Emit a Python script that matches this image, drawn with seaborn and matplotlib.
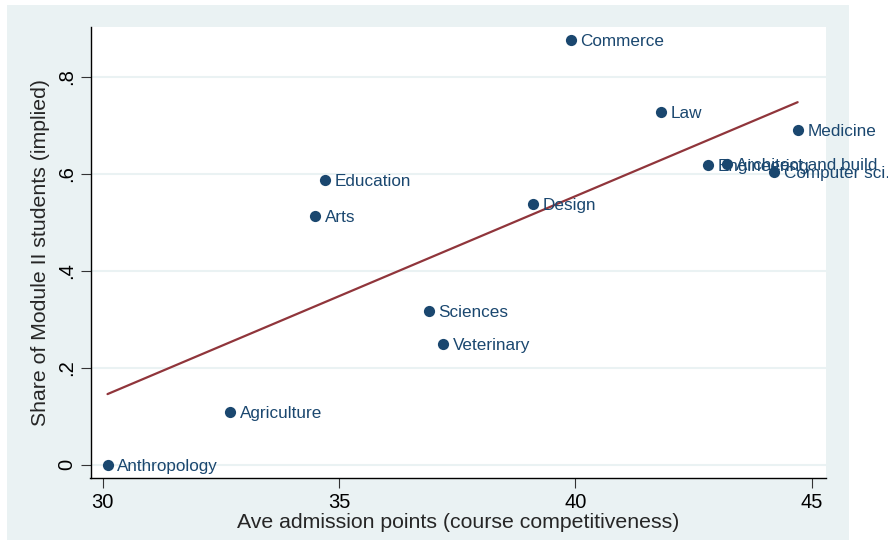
import pandas as pd
import matplotlib
matplotlib.use("Agg")
import matplotlib.pyplot as plt
import seaborn as sns
from matplotlib.patches import Rectangle

# Data
courses = ["Anthropology", "Agriculture", "Arts", "Education", "Sciences",
           "Veterinary", "Design", "Commerce", "Law", "Engineering",
           "Architect and build", "Computer sci.", "Medicine"]
admission_points = [30.1, 32.7, 34.5, 34.7, 36.9, 37.2, 39.1, 39.9, 41.8,
                    42.8, 43.2, 44.2, 44.7]
share_module2 = [0.0, 0.109, 0.513, 0.588, 0.318, 0.249, 0.538, 0.876,
                 0.728, 0.619, 0.621, 0.604, 0.691]

x_ticks = [30, 35, 40, 45]
y_ticks = [0, 0.2, 0.4, 0.6, 0.8]
y_tick_labels = ["0", ".2", ".4", ".6", ".8"]

df = pd.DataFrame({"course": courses, "points": admission_points,
                   "share": share_module2})

sns.set_style("white")
plt.rcParams["font.family"] = ["Liberation Sans", "DejaVu Sans"]

navy = "#1a476f"
maroon = "#90353b"
bg = "#eaf2f3"

fig = plt.figure(figsize=(8.88, 5.4), dpi=100)
fig.patch.set_facecolor("white")
fig.patches.append(Rectangle((7 / 888, 0), 842 / 888, 535 / 540,
                             transform=fig.transFigure, facecolor=bg,
                             edgecolor="none", zorder=-10))

ax = fig.add_axes([90.5 / 888, 62 / 540, 735.5 / 888, 451 / 540])
ax.set_facecolor("white")

# fitted line
sns.regplot(data=df, x="points", y="share", scatter=False, ci=None,
            color=maroon, line_kws={"linewidth": 1.6}, ax=ax)

# points
sns.scatterplot(data=df, x="points", y="share", color=navy, s=65,
                edgecolor=navy, linewidth=0, zorder=3, ax=ax)

for _, r in df.iterrows():
    ax.annotate(r["course"], (r["points"], r["share"]), xytext=(7, -1),
                textcoords="offset points", va="center", ha="left",
                color=navy, fontsize=12.3)

ax.set_xlim(29.74, 45.3)
ax.set_ylim(-0.027, 0.903)
ax.set_xticks(x_ticks)
ax.set_yticks(y_ticks)
ax.set_yticklabels(y_tick_labels, rotation=90, va="center")
ax.tick_params(axis="both", direction="out", length=7, width=0.8,
               colors="#333333", labelcolor="black", labelsize=14.5,
               left=True, bottom=True)
ax.yaxis.grid(True, color=bg, linewidth=1.5)
ax.set_axisbelow(True)

for s in ["top", "right"]:
    ax.spines[s].set_visible(False)
for s in ["left", "bottom"]:
    ax.spines[s].set_color("black")
    ax.spines[s].set_linewidth(1.0)

ax.set_xlabel("Ave admission points (course competitiveness)", fontsize=15.3,
              labelpad=1)
ax.set_ylabel("Share of Module II students (implied)", fontsize=15.3,
              labelpad=5)

fig.savefig("out.png", dpi=100, facecolor=fig.get_facecolor())
